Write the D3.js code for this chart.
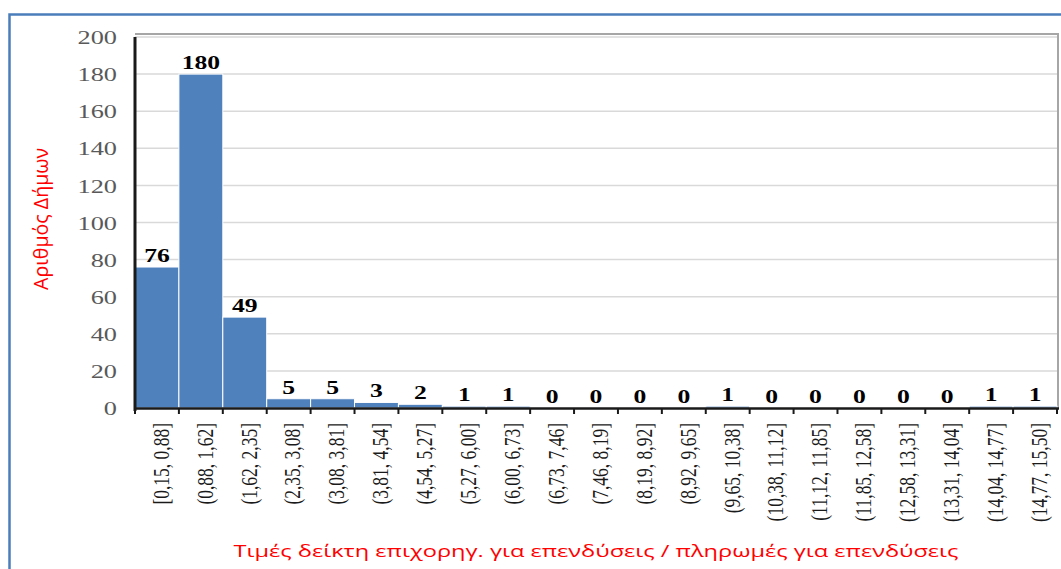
<!DOCTYPE html>
<html>
<head>
<meta charset="utf-8">
<script src="https://cdn.jsdelivr.net/npm/d3@7"></script>
<style>
  body { margin: 0; background: #fff; }
  svg { display: block; }
</style>
</head>
<body>
<svg id="chart" width="1061" height="569"></svg>
<script>
// ======================
// Dades
// ======================
const bins = [
  "[0,15, 0,88]", "(0,88, 1,62]", "(1,62, 2,35]", "(2,35, 3,08]", "(3,08, 3,81]",
  "(3,81, 4,54]", "(4,54, 5,27]", "(5,27, 6,00]", "(6,00, 6,73]", "(6,73, 7,46]",
  "(7,46, 8,19]", "(8,19, 8,92]", "(8,92, 9,65]", "(9,65, 10,38]", "(10,38, 11,12]",
  "(11,12, 11,85]", "(11,85, 12,58]", "(12,58, 13,31]", "(13,31, 14,04]", "(14,04, 14,77]",
  "(14,77, 15,50]"
];
const counts = [76, 180, 49, 5, 5, 3, 2, 1, 1, 0, 0, 0, 0, 1, 0, 0, 0, 0, 0, 1, 1];
const yTicks = [0, 20, 40, 60, 80, 100, 120, 140, 160, 180, 200];
const yTitle = "Αριθμός Δήμων";
const xTitle = "Τιμές δείκτη επιχορηγ. για επενδύσεις / πληρωμές για επενδύσεις";

const data = bins.map((b, i) => ({ bin: b, value: counts[i] }));

const svg = d3.select("#chart");
const stretch = 1.35; // el gràfic original està estirat horitzontalment

// marc exterior blau
svg.append("rect")
  .attr("x", 9.5)
  .attr("y", 14.5)
  .attr("width", 1080)
  .attr("height", 600)
  .attr("fill", "none")
  .attr("stroke", "#4a7ebb")
  .attr("stroke-width", 2.5);

const plotLeft = 135, plotRight = 1057, plotTop = 37, plotBottom = 408;

const x = d3.scaleBand()
  .domain(bins)
  .range([plotLeft, plotRight])
  .padding(0);

const y = d3.scaleLinear()
  .domain([0, 200])
  .range([plotBottom, plotTop]);

// =========================
// Graella
// =========================
svg.append("g")
  .selectAll("line")
  .data(yTicks.filter(d => d > 0))
  .enter()
  .append("line")
  .attr("x1", plotLeft)
  .attr("x2", plotRight)
  .attr("y1", d => y(d))
  .attr("y2", d => y(d))
  .attr("stroke", "#d9d9d9")
  .attr("stroke-width", 1.5);

// marc de l'àrea de dibuix (dalt i dreta)
svg.append("path")
  .attr("d", `M${plotLeft},${plotTop - 3}H${plotRight + 1}V${plotBottom}`)
  .attr("fill", "none")
  .attr("stroke", "#a6a6a6")
  .attr("stroke-width", 2);

// =========================
// Barres
// =========================
svg.append("g")
  .selectAll("rect")
  .data(data)
  .enter()
  .append("rect")
  .attr("x", d => x(d.bin))
  .attr("y", d => y(d.value))
  .attr("width", x.bandwidth())
  .attr("height", d => y(0) - y(d.value))
  .attr("fill", "#4f81bd")
  .attr("stroke", "#fff")
  .attr("stroke-width", 1);

// etiquetes de valor
svg.append("g")
  .selectAll("text")
  .data(data)
  .enter()
  .append("text")
  .attr("transform", d => `translate(${x(d.bin) + x.bandwidth() / 2}, ${y(d.value) - 5}) scale(${stretch},1)`)
  .attr("text-anchor", "middle")
  .text(d => d.value)
  .style("font-family", "'Liberation Serif', 'Times New Roman', serif")
  .style("font-size", "19px")
  .style("font-weight", "bold")
  .style("fill", "#000");

// =========================
// Eix Y
// =========================
const yAxis = svg.append("g")
  .attr("transform", `translate(${plotLeft}, 0)`)
  .call(d3.axisLeft(y).tickValues(yTicks).tickSize(0).tickPadding(0));

yAxis.select(".domain").remove();
yAxis.selectAll("text")
  .attr("x", 0)
  .attr("dy", "0.34em")
  .attr("transform", `translate(-18,0) scale(${stretch},1)`)
  .attr("text-anchor", "end")
  .style("font-family", "'Liberation Serif', 'Times New Roman', serif")
  .style("font-size", "19.5px")
  .style("fill", "#595959");

svg.append("line")
  .attr("x1", plotLeft)
  .attr("x2", plotLeft)
  .attr("y1", plotTop)
  .attr("y2", plotBottom + 3)
  .attr("stroke", "#1a1a1a")
  .attr("stroke-width", 3);

// =========================
// Eix X
// =========================
const xAxis = svg.append("g")
  .attr("transform", `translate(0, ${plotBottom})`)
  .call(d3.axisBottom(x).tickSize(0).tickPadding(0));

xAxis.select(".domain").remove();
xAxis.selectAll("text")
  .attr("x", 0)
  .attr("y", 0)
  .attr("dy", "0.33em")
  .attr("transform", `translate(4, 15) rotate(-90) scale(1,${stretch})`)
  .attr("text-anchor", "end")
  .style("font-family", "'Liberation Serif', 'Times New Roman', serif")
  .style("font-size", "17.5px")
  .style("fill", "#1a1a1a");

svg.append("line")
  .attr("x1", plotLeft)
  .attr("x2", plotRight + 2)
  .attr("y1", plotBottom + 0.5)
  .attr("y2", plotBottom + 0.5)
  .attr("stroke", "#1a1a1a")
  .attr("stroke-width", 2.5);

// marques a les vores de cada interval
const edges = bins.map(b => x(b)).concat([x(bins[bins.length - 1]) + x.bandwidth()]);
svg.append("g")
  .selectAll("line")
  .data(edges)
  .enter()
  .append("line")
  .attr("x1", d => d)
  .attr("x2", d => d)
  .attr("y1", plotBottom)
  .attr("y2", plotBottom + 6)
  .attr("stroke", "#1a1a1a")
  .attr("stroke-width", 2);

// =========================
// Títols dels eixos
// =========================
svg.append("text")
  .attr("transform", `translate(48, 219) rotate(-90) scale(1,1.3)`)
  .attr("text-anchor", "middle")
  .attr("textLength", 142)
  .attr("lengthAdjust", "spacingAndGlyphs")
  .text(yTitle)
  .style("font-family", "'Open Sans', 'Noto Sans', sans-serif")
  .style("font-size", "15px")
  .style("fill", "#ff0000");

svg.append("text")
  .attr("x", 596)
  .attr("y", 557)
  .attr("text-anchor", "middle")
  .attr("textLength", 725)
  .attr("lengthAdjust", "spacingAndGlyphs")
  .text(xTitle)
  .style("font-family", "'Open Sans', 'Noto Sans', sans-serif")
  .style("font-size", "16px")
  .style("fill", "#ff0000");
</script>
</body>
</html>
